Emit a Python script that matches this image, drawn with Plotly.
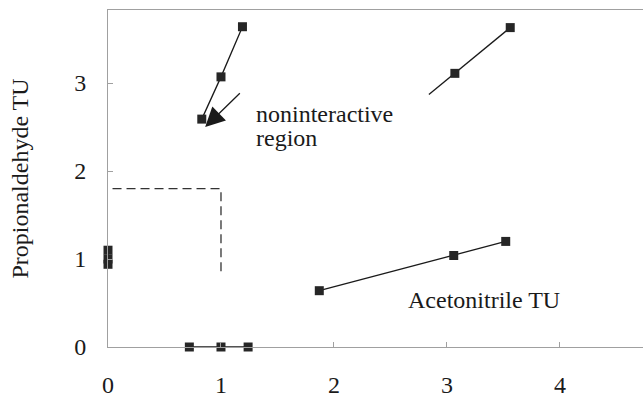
import plotly.graph_objects as go

# Data
s1_x = [0.83, 1.00, 1.19]
s1_y = [2.59, 3.07, 3.64]

s2_line_x = [2.84, 3.07, 3.56]
s2_line_y = [2.87, 3.11, 3.63]
s2_mark_x = [3.07, 3.56]
s2_mark_y = [3.11, 3.63]

s3_x = [1.87, 3.06, 3.52]
s3_y = [0.64, 1.04, 1.20]

s4_x = [0.72, 1.00, 1.24]
s4_y = [0.0, 0.0, 0.0]

s5_x = [0.0, 0.0, 0.0]
s5_y = [1.10, 1.00, 0.94]

dash_x = [0.04, 1.00, 1.00]
dash_y = [1.80, 1.80, 0.81]

arrow_tail = (1.18, 2.90)
arrow_head = (0.86, 2.50)

x_ticks = [0, 1, 2, 3, 4]
y_ticks = [0, 1, 2, 3]
x_range = [0, 4.735]
y_range = [0, 3.83]

FONT = "Liberation Serif"
INK = "#1a1a1a"
MARK = "#262626"
FS = 24

fig = go.Figure()

fig.add_trace(go.Scatter(x=dash_x, y=dash_y, mode="lines",
                         line=dict(color="#333", width=1.3, dash="9px,5px"),
                         hoverinfo="skip", showlegend=False))

marker = dict(symbol="square", size=9, color=MARK, line=dict(width=0))
line = dict(color=INK, width=1.3)

fig.add_trace(go.Scatter(x=s1_x, y=s1_y, mode="lines+markers", line=line, marker=marker,
                         cliponaxis=False, showlegend=False))
fig.add_trace(go.Scatter(x=s2_line_x, y=s2_line_y, mode="lines", line=line,
                         cliponaxis=False, showlegend=False))
fig.add_trace(go.Scatter(x=s2_mark_x, y=s2_mark_y, mode="markers", marker=marker,
                         cliponaxis=False, showlegend=False))
fig.add_trace(go.Scatter(x=s3_x, y=s3_y, mode="lines+markers", line=line, marker=marker,
                         cliponaxis=False, showlegend=False))
fig.add_trace(go.Scatter(x=s4_x, y=s4_y, mode="lines+markers", line=line, marker=marker,
                         cliponaxis=False, showlegend=False))
fig.add_trace(go.Scatter(x=s5_x, y=s5_y, mode="lines+markers", line=line, marker=marker,
                         cliponaxis=False, showlegend=False))

fig.add_annotation(x=arrow_head[0], y=arrow_head[1], ax=arrow_tail[0], ay=arrow_tail[1],
                   xref="x", yref="y", axref="x", ayref="y", text="",
                   showarrow=True, arrowhead=2, arrowsize=3.0, arrowwidth=1.3,
                   arrowcolor=INK)

fig.add_annotation(x=1.29, y=2.65, xref="x", yref="y", text="noninteractive",
                   showarrow=False, xanchor="left", yanchor="middle",
                   font=dict(family=FONT, size=FS, color=INK))
fig.add_annotation(x=1.29, y=2.37, xref="x", yref="y", text="region",
                   showarrow=False, xanchor="left", yanchor="middle",
                   font=dict(family=FONT, size=FS, color=INK))
fig.add_annotation(x=2.64, y=0.53, xref="x", yref="y", text="Acetonitrile TU",
                   showarrow=False, xanchor="left", yanchor="middle",
                   font=dict(family=FONT, size=FS, color=INK))

axis_common = dict(showgrid=False, zeroline=False, showline=True, linecolor="#a0a0a0",
                   linewidth=1, ticks="inside", ticklen=5, tickcolor="#a0a0a0",
                   automargin=False,
                   tickfont=dict(family=FONT, size=FS, color=INK))

fig.update_xaxes(range=x_range, tickvals=x_ticks, mirror=True,
                 ticklabelstandoff=16, **axis_common)
fig.update_yaxes(range=y_range, tickvals=y_ticks, ticklabelstandoff=16,
                 title=dict(text="Propionaldehyde TU", standoff=38,
                            font=dict(family=FONT, size=FS, color=INK)),
                 **axis_common)

fig.update_layout(width=643, height=397, margin=dict(l=108, r=0, t=10, b=50),
                  paper_bgcolor="white", plot_bgcolor="white")

fig.write_html("out.html", config={"displayModeBar": False},
               post_script="document.body.style.margin='0';document.body.style.overflow='hidden';")
